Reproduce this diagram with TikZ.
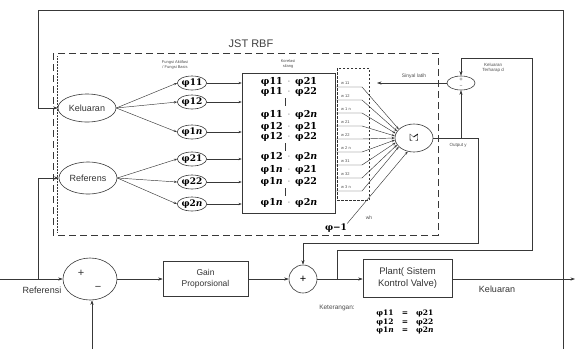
\documentclass[tikz,border=0pt]{standalone}
\usepackage{fontspec}
\setmainfont{Liberation Sans}
\newfontfamily\phf{DejaVu Serif}
\usetikzlibrary{shapes.geometric,arrows.meta}
\newcommand\nI{\textit{n}}
\begin{document}
\begin{tikzpicture}[x=1pt,y=-1pt,
 ln/.style={draw=black!78,line width=0.6pt},
 arr/.style={ln,-{Stealth[length=4.5pt,width=3.2pt]}},
 sarr/.style={ln,line width=0.45pt,-{Stealth[length=3.2pt,width=2.4pt]}},
 ell/.style={ellipse,ln,inner sep=0pt},
 phin/.style={ell,minimum width=29pt,minimum height=14pt,font=\phf\bfseries\fontsize{9}{9}\selectfont},
 blk/.style={rectangle,ln,align=center,inner sep=0pt},
 tinyt/.style={font=\fontsize{4}{4.6}\selectfont,text=black!70,align=center,inner sep=0pt},
 prodt/.style={font=\phf\bfseries\fontsize{9.5}{9.5}\selectfont,inner sep=0pt},
 lbl/.style={font=\fontsize{9}{10.5}\selectfont,text=black!80,align=center,inner sep=0pt},
]
\useasboundingbox (0,0) rectangle (575,349);

% JST RBF frame
\draw[ln,dash pattern=on 7pt off 4pt] (53,53) rectangle (438,235);
\draw[ln,line width=0.5pt,densely dotted] (57,56) -- (57,233);
\node[font=\fontsize{11}{11}\selectfont,text=black!75] (jst) at (251,44) {JST RBF};

% input ellipses
\node[ell,minimum width=58pt,minimum height=28pt,lbl] (kel) at (87,108) {Keluaran};
\node[ell,minimum width=58pt,minimum height=32pt,lbl] (ref) at (88,178) {Referens};

% basis functions
\node[tinyt] (fa) at (175,65) {Fungsi Aktifasi\\/ Fungsi Basis};
\node[phin] (p11) at (192,83) {φ11};
\node[phin] (p12) at (192,102) {φ12};
\node[phin] (p1n) at (192,132) {φ1\nI};
\node[phin] (p21) at (192,159) {φ21};
\node[phin] (p22) at (192,182) {φ22};
\node[phin] (p2n) at (192,204) {φ2\nI};
\foreach \p in {p11,p12,p1n} \draw[sarr] (kel.east) -- (\p.west);
\foreach \p in {p21,p22,p2n} \draw[sarr] (ref.east) -- (\p.west);

% cross-correlation box
\node[tinyt] (ks) at (288,64) {Korelasi\\silang};
\node[blk,minimum width=93pt,minimum height=140pt] (prod) at (288.5,143) {};
\foreach \p in {p11,p12,p1n,p21,p22,p2n} \draw[sarr] (\p.east) -- (\p.east -| prod.west);
\foreach \y/\a/\b [count=\i] in {82/11/21, 92/11/22, 115/11/2\nI, 127/12/21, 137/12/22, 157/12/2\nI, 170/1\nI/21, 182/1\nI/22, 203/1\nI/2\nI} {
  \node[prodt,anchor=east] (ra\i) at (283,\y) {φ\a};
  \node[prodt,anchor=west] (rb\i) at (295,\y) {φ\b};
  \node[inner sep=0pt,font=\fontsize{7}{7}\selectfont] (rd\i) at (289,\y) {·};
}
\foreach \y in {102,147,192} \draw[ln,line width=1pt] (285,\y-4) -- (285,\y+4);

% weights
\node[rectangle,draw=black!80,line width=0.9pt,dash pattern=on 2.5pt off 1.5pt,minimum width=32pt,minimum height=132pt,inner sep=0pt] (wbox) at (353,134) {};
\node[ell,minimum width=38pt,minimum height=28pt,font=\fontsize{13}{13}\selectfont] (sig) at (414,138) {\rotatebox{-90}{$\Sigma$}};
\foreach \t/\ang [count=\i] in {w 11/150, w 12/158, w 1 n/166, w 21/174, w 22/180, w 2 n/186, w 31/194, w 32/202, w 3 n/210} {
  \node[tinyt,anchor=west] (w\i) at (341,{70+13*\i}) {\t};
  \coordinate (wl\i) at (335,{74+13*\i});
  \coordinate (wm\i) at (362,{74+13*\i});
  \draw[sarr] (wl\i) -- (wm\i) -- (sig.\ang);
}
\node[prodt,font=\phf\bfseries\fontsize{9}{9}\selectfont] (bias) at (336,228) {φ−1};
\draw[sarr] (bias.north east) -- (sig.245);
\node[tinyt,font=\fontsize{5}{5}\selectfont] (wh) at (369,218) {wh};

% training signal part
\node[ell,minimum width=28pt,minimum height=14pt] (tgt) at (461,83) {};
\node[tinyt,font=\fontsize{6}{6}\selectfont] (tp) at (461,80) {+};
\node[tinyt,font=\fontsize{5}{5}\selectfont] (tm) at (461,87) {−};
\node[tinyt,font=\fontsize{4.5}{5.2}\selectfont] (kt) at (493,68) {Keluaran\\Terharap d};
\coordinate (sl) at (377,83);
\draw[arr] (tgt.west) -- (sl);
\node[tinyt,font=\fontsize{5}{5}\selectfont] (slt) at (414,76) {Sinyal latih};
\coordinate (oy) at (478,138);
\coordinate (ob) at (461,138);
\draw[arr] (ob) -- (tgt.south);
\node[tinyt,font=\fontsize{4.5}{5}\selectfont] (oyt) at (458,145) {Output y};

% bottom loop
\coordinate (in) at (0,279);
\coordinate (br) at (38,279);
\node[ell,minimum width=54pt,minimum height=42pt] (sum1) at (90,279) {};
\node[lbl,font=\fontsize{11}{11}\selectfont] (s1p) at (81,273) {+};
\node[lbl,font=\fontsize{11}{11}\selectfont] (s1m) at (98,288) {−};
\node[blk,minimum width=85pt,minimum height=35pt,font=\fontsize{8.5}{11}\selectfont,text=black!80] (gain) at (205.5,279) {Gain\\Proporsional};
\node[circle,ln,minimum size=28pt,inner sep=0pt,font=\fontsize{11}{11}\selectfont] (sum2) at (303,279) {+};
\node[blk,minimum width=89pt,minimum height=38pt,font=\fontsize{9.5}{12}\selectfont,text=black!80] (plant) at (407.5,278.5) {Plant( Sistem\\Kontrol Valve)};
\coordinate (out) at (575,279);
\node[lbl] (refl) at (42,290) {Referensi};
\node[lbl] (kell) at (497,289) {Keluaran};

\draw[arr] (in) -- (sum1.west);
\draw[ln] (br) -- (38,178);
\draw[arr] (38,178) -- (ref.west);
\draw[arr] (sum1.east) -- (gain.west);
\draw[arr] (gain.east) -- (sum2.west);
\draw[arr] (sum2.east) -- (sum2.east -| plant.west);
\draw[arr] (plant.east |- out) -- (out);

% output of RBF to summing point
\coordinate (c1) at (478,243);
\draw[ln] (sig.east) -- (oy) -- (c1) -- (sum2.north |- c1);
\draw[arr] (sum2.north |- c1) -- (sum2.north);

% desired output line
\coordinate (jd) at (337,279);
\coordinate (d1) at (337,250);
\coordinate (d2) at (532,250);
\coordinate (d3) at (532,58);
\coordinate (d4) at (461,58);
\draw[ln] (jd) -- (d1) -- (d2) -- (d3) -- (d4);
\draw[arr] (d4) -- (tgt.north);

% outer feedback
\coordinate (t1) at (563,349);
\coordinate (t2) at (563,10);
\coordinate (t3) at (38,10);
\coordinate (t4) at (38,108);
\draw[ln] (t1) -- (t2) -- (t3) -- (t4);
\draw[arr] (t4) -- (kel.west);
\coordinate (fb) at (92,349);
\draw[arr] (fb) -- (sum1.south -| fb);

% legend
\node[tinyt,font=\fontsize{6.5}{6.5}\selectfont] (ket) at (337,308) {Keterangan:};
\node[prodt,font=\phf\bfseries\fontsize{7.5}{9}\selectfont,anchor=north] (leg) at (405,309) {\begin{tabular}{@{}l@{\hspace{8pt}}c@{\hspace{8pt}}l@{}}φ11 & = & φ21\\[-0.5pt] φ12 & = & φ22\\[-0.5pt] φ1\nI & = & φ2\nI\end{tabular}};
\end{tikzpicture}
\end{document}
